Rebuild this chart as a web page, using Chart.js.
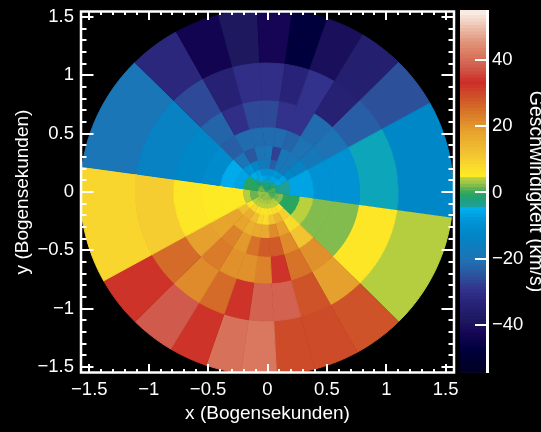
<!DOCTYPE html>
<html>
<head>
<meta charset="utf-8">
<title>Geschwindigkeitsfeld</title>
<script src="https://cdn.jsdelivr.net/npm/chart.js@4"></script>
<style>
    html, body { margin: 0; padding: 0; background: #000; }
    #wrap { position: relative; width: 541px; height: 432px; overflow: hidden; }
    canvas { position: absolute; left: 0; top: 0; }
</style>
</head>
<body>
<div id="wrap">
    <canvas id="mapChart" width="541" height="432"></canvas>
    <canvas id="barChart" width="541" height="432"></canvas>
</div>
<script>
// Polar grid: radii in arcsec, sector edges in degrees (counter-clockwise)
const ringEdges = [0, 0.069, 0.098, 0.138, 0.195, 0.276, 0.39, 0.55, 0.78, 1.105, 1.57];
const sectorEdges = [-8, 29, 45, 59, 71, 82, 93, 105, 119, 135, 172, 209, 225, 239, 251, 262, 273, 285, 299, 315, 352];
const centerX = -0.006;

// Velocities (km/s) per ring, one per sector, inner to outer
const ring0 = [1, 0, -1, -2, -3, -2, -1, 0, 1, 2, 3, 3, 3, 3, 3, 3, 3, 3, 2, 1];
const ring1 = [-2, -3.5, -3.5, -4, -4, -4, -4, -3.5, -3, 0, 2, 4, 4, 4, 4, 4, 4, 4, 4, 2];
const ring2 = [-3.5, -5, -6, -6, -7, -7, -6, -5, -3.5, 0, 2, 4.8, 4.8, 5, 5, 5, 5, 5, 4.8, 2.5];
const ring3 = [-3.5, -6, -9, -8, -9, -9, -9, -6, -5, 0, 4.5, 6.5, 8.5, 7, 6, 6, 7, 8, 7, 0];
const ring4 = [-6, -13, -18, -18, -23, -18, -17, -13, -9, -6, 5.5, 13, 16, 13, 9, 8, 12, 15, 10, 0];
const ring5 = [-6, -14, -19, -19, -27, -19, -20, -24, -19, -5, 5.5, 18, 18, 16, 17, 17, 22, 19, 8, 4.8];
const ring6 = [-9, -18, -20, -22, -21, -21, -21, -21, -23, -11, 5.5, 18, 23, 20, 25, 28, 28, 22, 12, 2.5];
const ring7 = [-9, -20, -21, -29, -29, -26, -26, -30, -22, -12, 6, 19, 24, 21, 21, 23, 33, 25, 21, 2.5];
const ring8 = [-4.4, -23, -34, -29, -33, -30, -30, -34, -26, -14, 10.5, 26, 22, 26, 33, 39, 39, 29, 19, 6];
const ring9 = [-12, -25, -35, -40, -47, -42, -38, -43, -32, -19, 9, 33, 38, 33, 41, 42, 30, 30, 29, 4.5];
const rings = [ring0, ring1, ring2, ring3, ring4, ring5, ring6, ring7, ring8, ring9];

const axisTicks = [-1.5, -1, -0.5, 0, 0.5, 1, 1.5];
const minorTicks = [-1.5, -1.4, -1.3, -1.2, -1.1, -1, -0.9, -0.8, -0.7, -0.6, -0.5, -0.4, -0.3, -0.2, -0.1, 0,
    0.1, 0.2, 0.3, 0.4, 0.5, 0.6, 0.7, 0.8, 0.9, 1, 1.1, 1.2, 1.3, 1.4, 1.5];
const barTicks = [-40, -20, 0, 20, 40];
const barLevels = [55, 54, 53, 52, 51, 50, 49, 48, 47, 46, 45, 44, 43, 42, 41, 40, 39, 38, 37, 36, 35, 34, 33, 32, 31, 30,
    29, 28, 27, 26, 25, 24, 23, 22, 21, 20, 19, 18, 17, 16, 15, 14, 13, 12, 11, 10, 9, 8, 7, 6, 5, 4, 3, 2, 1, 0,
    -1, -2, -3, -4, -5, -6, -7, -8, -9, -10, -11, -12, -13, -14, -15, -16, -17, -18, -19, -20, -21, -22, -23, -24, -25,
    -26, -27, -28, -29, -30, -31, -32, -33, -34, -35, -36, -37, -38, -39, -40, -41, -42, -43, -44, -45, -46, -47, -48,
    -49, -50, -51, -52, -53, -54];

// Colour table (value, r, g, b), has jumps at -4.5 and 5
const colorStops = [
    [-55, 45, 45, 45], [-53.9, 0, 0, 35], [-47, 0, 0, 60], [-42, 22, 5, 85], [-38, 30, 25, 95], [-33, 40, 35, 120],
    [-29, 50, 50, 140], [-25, 45, 80, 155], [-20, 30, 115, 180], [-12, 0, 135, 200], [-8, 0, 150, 215], [-4.5, 0, 175, 238],
    [-4.49, 10, 165, 190], [-3.5, 30, 160, 150], [-2, 30, 160, 130], [0, 40, 165, 95], [2, 110, 180, 80], [3, 150, 195, 75],
    [5, 190, 210, 60], [5.01, 255, 235, 35], [8, 250, 220, 45], [13, 240, 190, 50], [19, 230, 160, 45], [25, 215, 115, 40],
    [30, 205, 75, 40], [33.8, 205, 45, 40], [38, 208, 90, 75], [42, 218, 120, 95], [46, 225, 150, 125], [50, 235, 190, 170],
    [55, 250, 240, 232],
];

const WHITE = '#fff';
const FONT = 'Liberation Sans, Arial, sans-serif';

function velocityColor(v) {
    for (let i = 1; i < colorStops.length; i++) {
        const a = colorStops[i - 1], b = colorStops[i];
        if (v <= b[0]) {
            const t = Math.max(0, (v - a[0]) / (b[0] - a[0]));
            const c = [1, 2, 3].map(k => Math.round(a[k] + (b[k] - a[k]) * t));
            return `rgb(${c[0]},${c[1]},${c[2]})`;
        }
    }
    return 'rgb(250,240,232)';
}

// Outline of one ring sector in data coordinates
function wedgeOutline(r0, r1, a0, a1) {
    const pts = [];
    const steps = Math.max(2, Math.ceil((a1 - a0) / 3));
    for (let i = 0; i <= steps; i++) {
        const a = (a0 + (a1 - a0) * i / steps) * Math.PI / 180;
        pts.push({ x: centerX + r1 * Math.cos(a), y: r1 * Math.sin(a) });
    }
    for (let i = steps; i >= 0 && r0 > 0; i--) {
        const a = (a0 + (a1 - a0) * i / steps) * Math.PI / 180;
        pts.push({ x: centerX + r0 * Math.cos(a), y: r0 * Math.sin(a) });
    }
    if (r0 === 0) pts.push({ x: centerX, y: 0 });
    return pts;
}

const wedgeSets = [];
rings.forEach((ring, i) => {
    ring.forEach((v, j) => {
        const color = velocityColor(v);
        wedgeSets.push({
            data: wedgeOutline(ringEdges[i], ringEdges[i + 1], sectorEdges[j], sectorEdges[j + 1]),
            showLine: true,
            fill: 'shape',
            backgroundColor: color,
            borderColor: color,
            borderWidth: 1,
            pointRadius: 0,
            tension: 0,
        });
    });
});

function minusLabel(v) {
    return String(v).replace('-', '\u2212');
}

function noEdgePadding(s) {
    s.paddingTop = 0;
    s.paddingBottom = 0;
    s.paddingLeft = 0;
    s.paddingRight = 0;
}

// Frame and inward ticks on all four sides
const frameTicks = {
    id: 'frameTicks',
    afterDatasetsDraw(chart) {
        const { ctx, chartArea: a, scales } = chart;
        ctx.save();
        ctx.strokeStyle = WHITE;
        ctx.lineWidth = 2;
        const mark = (v, lenX, lenY) => {
            const px = Math.round(scales.x.getPixelForValue(v));
            const py = Math.round(scales.y.getPixelForValue(v));
            ctx.beginPath();
            ctx.moveTo(px, a.bottom); ctx.lineTo(px, a.bottom - lenX);
            ctx.moveTo(px, a.top); ctx.lineTo(px, a.top + lenX);
            ctx.moveTo(a.left, py); ctx.lineTo(a.left + lenY, py);
            ctx.moveTo(a.right, py); ctx.lineTo(a.right - lenY, py);
            ctx.stroke();
        };
        minorTicks.forEach(v => mark(v, 3.5, 5.5));
        axisTicks.forEach(v => mark(v, 8.5, 12.5));
        ctx.lineWidth = 2.5;
        ctx.strokeRect(a.left, a.top, a.right - a.left, a.bottom - a.top);
        ctx.restore();
    }
};

new Chart(document.getElementById('mapChart'), {
    type: 'scatter',
    data: { datasets: wedgeSets },
    plugins: [frameTicks],
    options: {
        responsive: false,
        animation: false,
        layout: { padding: { top: 11.5, right: 87, left: 0, bottom: 0 } },
        plugins: { legend: { display: false }, tooltip: { enabled: false } },
        scales: {
            x: {
                min: -1.57, max: 1.57,
                grid: { display: false, drawTicks: false }, border: { display: false },
                afterBuildTicks: s => { s.ticks = axisTicks.map(v => ({ value: v })); },
                afterFit: s => { s.height = 59.5; noEdgePadding(s); },
                ticks: { color: WHITE, font: { family: FONT, size: 18.5 }, padding: 6, maxRotation: 0, autoSkip: false, callback: minusLabel },
                title: { display: true, text: 'x (Bogensekunden)', color: WHITE, font: { family: FONT, size: 19 }, padding: { top: 0, bottom: 6.5 } },
            },
            y: {
                min: -1.547, max: 1.547,
                grid: { display: false, drawTicks: false }, border: { display: false },
                afterBuildTicks: s => { s.ticks = axisTicks.map(v => ({ value: v })); },
                afterFit: s => { s.width = 81; noEdgePadding(s); },
                ticks: { color: WHITE, font: { family: FONT, size: 18.5 }, padding: 7, autoSkip: false, callback: minusLabel },
                title: { display: true, text: 'y (Bogensekunden)', color: WHITE, font: { family: FONT, size: 19 }, padding: { top: 11, bottom: 0 } },
            },
        },
    },
});

// Colour bar
const barEdge = {
    id: 'barEdge',
    afterDatasetsDraw(chart) {
        const { ctx, chartArea: a, scales } = chart;
        ctx.save();
        ctx.strokeStyle = WHITE;
        ctx.lineWidth = 2;
        barTicks.forEach(v => {
            const py = Math.round(scales.y.getPixelForValue(v));
            ctx.beginPath();
            ctx.moveTo(a.right, py); ctx.lineTo(a.right - 12, py);
            ctx.stroke();
        });
        ctx.lineWidth = 3;
        ctx.beginPath();
        ctx.moveTo(a.right + 0.5, a.top); ctx.lineTo(a.right + 0.5, a.bottom);
        ctx.stroke();
        ctx.restore();
    }
};

new Chart(document.getElementById('barChart'), {
    type: 'bar',
    data: {
        labels: ['v'],
        datasets: barLevels.map(v => ({
            data: [[v - 1.3, v]],
            backgroundColor: velocityColor(v - 0.5),
            grouped: false,
            barPercentage: 1,
            categoryPercentage: 1,
        })),
    },
    plugins: [barEdge],
    options: {
        responsive: false,
        animation: false,
        layout: { padding: { top: 10, left: 460, right: 0, bottom: 59 } },
        plugins: { legend: { display: false }, tooltip: { enabled: false } },
        scales: {
            x: { display: false, afterFit: noEdgePadding },
            y: {
                position: 'right',
                min: -54.5, max: 55.1,
                grid: { display: false, drawTicks: false }, border: { display: false },
                afterBuildTicks: s => { s.ticks = barTicks.map(v => ({ value: v })); },
                afterFit: s => { s.width = 54; noEdgePadding(s); },
                ticks: { color: WHITE, font: { family: FONT, size: 18.5 }, padding: 5, autoSkip: false, callback: minusLabel },
                title: { display: true, text: 'Geschwindigkeit (km/s)', color: WHITE, font: { family: FONT, size: 19.5 }, padding: { top: -6, bottom: 0 } },
            },
        },
    },
});
</script>
</body>
</html>
